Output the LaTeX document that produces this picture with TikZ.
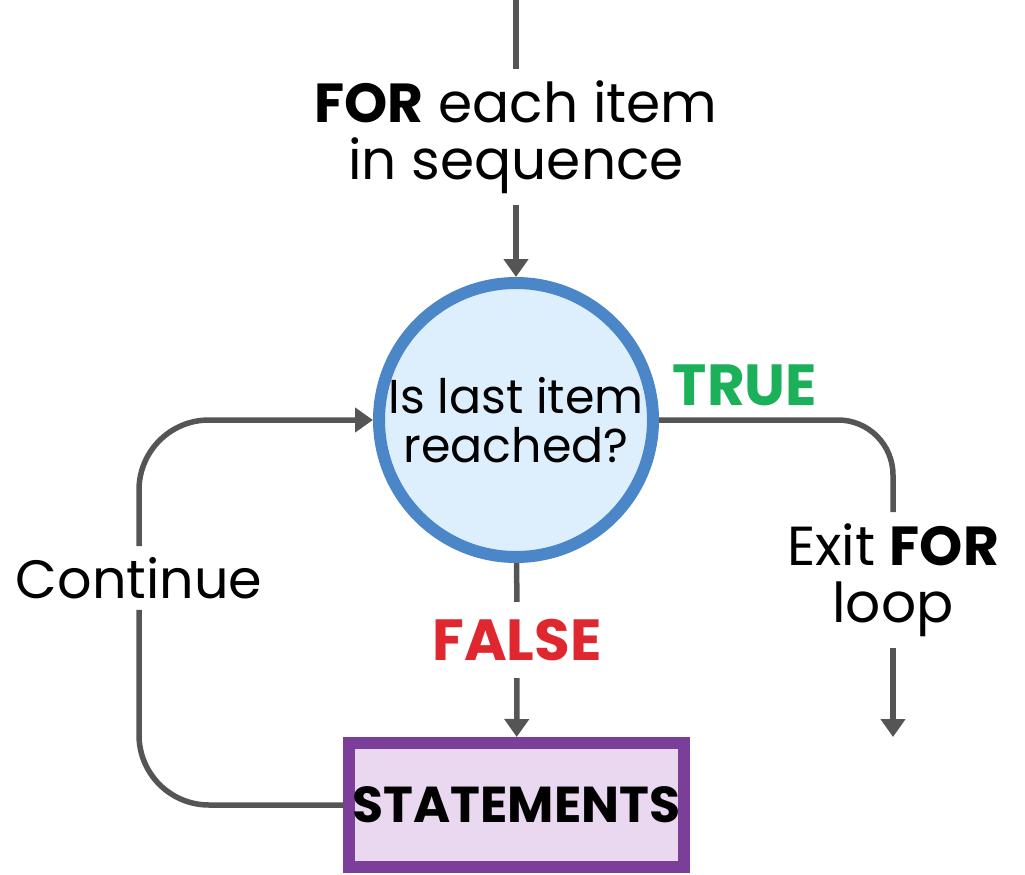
\documentclass[tikz,border=0pt]{standalone}
\usepackage{fontspec}
\setmainfont{Poppins}
\usetikzlibrary{arrows.meta}
\definecolor{linegray}{HTML}{555555}
\definecolor{qblue}{HTML}{4A86C8}
\definecolor{qfill}{HTML}{DDEEFC}
\definecolor{tgreen}{HTML}{1DB05A}
\definecolor{fred}{HTML}{E0262E}
\definecolor{spurple}{HTML}{7B3F99}
\definecolor{sfill}{HTML}{EAD8F1}
\begin{document}
\begin{tikzpicture}[x=1pt,y=-1pt,
  conn/.style={draw=linegray, line width=5.5pt},
  arr/.style={conn, -{Triangle[length=18pt,width=24pt]}},
  lbl/.style={font=\fontsize{55}{57}\selectfont, align=center, inner sep=11pt},
  decision/.style={circle, draw=qblue, fill=qfill, line width=12pt, minimum size=274pt,
    inner sep=0pt, align=center, font=\fontsize{47.5}{49}\selectfont},
  stmtbox/.style={rectangle, draw=spurple, fill=sfill, line width=12pt,
    minimum width=335pt, minimum height=124pt, inner sep=0pt, font=\fontsize{50.5}{52}\selectfont\bfseries},
  branch/.style={font=\fontsize{58}{58}\selectfont\bfseries, inner sep=17pt}
]
\useasboundingbox (0,0) rectangle (1025,875);
\coordinate (top) at (516,0);
\node[lbl] (for) at (516,137) {\textbf{FOR} each item\\in sequence};
\node[decision] (q) at (516,420) {Is last item\\reached?};
\node[branch, text=tgreen] (true) at (745,385) {TRUE};
\node[branch, text=fred] (false) at (517,640) {FALSE};
\node[stmtbox] (st) at (516.5,805) {STATEMENTS};
\node[lbl, font=\fontsize{54}{57}\selectfont] (cont) at (139,578) {Continue};
\node[lbl] (exit) at (893,580) {Exit \textbf{FOR}\\loop};
\coordinate (exitend) at (893,737);

\draw[conn] (top) -- (for);
\draw[arr] (for) -- (q);
\draw[conn] (q) -- (false);
\draw[arr] (false) -- (st);
\draw[conn, rounded corners=55pt] (q.east) -| (exit.north);
\draw[arr] (exit.south) -- (exitend);
\draw[conn, rounded corners=70pt] (st.west) -| (cont.south);
\draw[arr, rounded corners=70pt] (cont.north) |- (q.west);
\end{tikzpicture}
\end{document}
